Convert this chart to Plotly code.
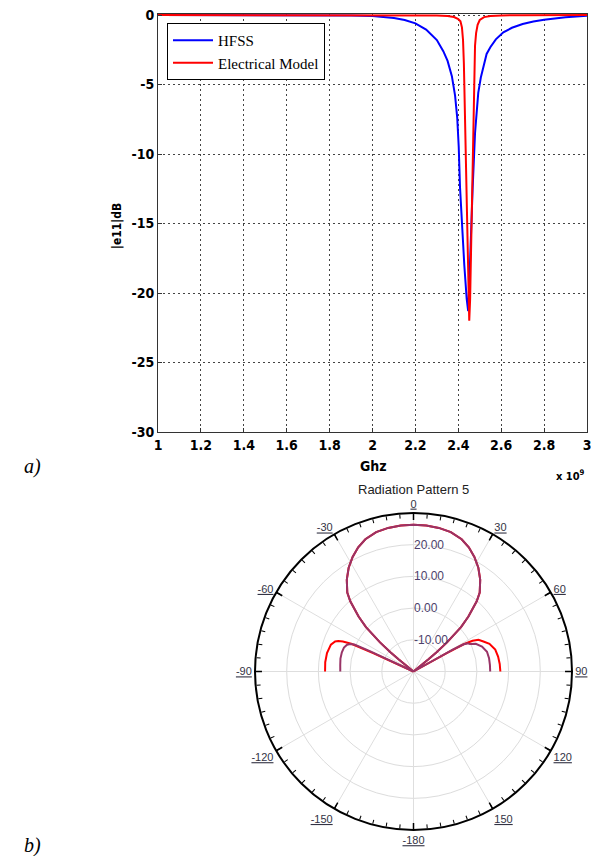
import plotly.graph_objects as go

W, H = 591, 856

# ---------------- (a) |S11| data ----------------
hfss_f = [1.0, 1.2, 1.4, 1.6, 1.7, 1.8, 1.9, 2.0, 2.05, 2.1,
          2.15, 2.2, 2.25, 2.3, 2.33, 2.35, 2.37, 2.385, 2.395, 2.402,
          2.408, 2.416, 2.428, 2.439, 2.446, 2.452, 2.458, 2.467, 2.478, 2.493,
          2.505, 2.517, 2.532, 2.55, 2.575, 2.61, 2.65, 2.7, 2.75, 2.8,
          2.85, 2.9, 2.95, 3.0]
hfss_db = [0, 0, 0, -0.005, -0.01, -0.02, -0.04, -0.08, -0.13, -0.22,
           -0.36, -0.6, -1.05, -1.8, -2.6, -3.3, -4.4, -5.8, -7.4, -9.5,
           -12.4, -15.0, -18.0, -20.4, -21.3, -19.0, -15.7, -12.4, -8.5, -5.6,
           -4.5, -3.7, -2.8, -2.3, -1.75, -1.25, -0.92, -0.65, -0.47, -0.35,
           -0.24, -0.16, -0.1, -0.06]

em_f = [1.0, 1.5, 2.0, 2.2, 2.3, 2.35, 2.38, 2.4, 2.41, 2.417,
        2.422, 2.426, 2.43, 2.435, 2.442, 2.447, 2.451, 2.455, 2.458, 2.462,
        2.466, 2.47, 2.474, 2.478, 2.483, 2.49, 2.5, 2.52, 2.55, 2.6,
        2.7, 2.8, 3.0]
em_db = [0, 0, -0.005, -0.01, -0.03, -0.07, -0.15, -0.3, -0.45, -0.9,
         -1.8, -3.5, -6.5, -11.0, -16.9, -20.5, -22.0, -20.5, -18.1, -15.5,
         -13.0, -8.5, -4.2, -2.2, -1.3, -0.7, -0.36, -0.15, -0.07, -0.03,
         -0.015, -0.01, 0]

x_ticks = [1.0, 1.2, 1.4, 1.6, 1.8, 2.0, 2.2, 2.4, 2.6, 2.8, 3.0]
x_ticklabels = ["1", "1.2", "1.4", "1.6", "1.8", "2", "2.2", "2.4", "2.6", "2.8", "3"]
y_ticks = [-30, -25, -20, -15, -10, -5, 0]
y_ticklabels = ["-30", "-25", "-20", "-15", "-10", "-5", "0"]

# ---------------- (b) radiation pattern data ----------------
red_theta = [-90, -84, -78, -72, -69, -68, -67, -66, -65.5, -65,
             -58, -51, -50.5, -50, -49, -47, -45, -42, -40, -36,
             -32, -28, -24, -20, -15, -10, -5, 0, 5, 10,
             15, 20, 24, 28, 32, 36, 40, 42, 45, 47,
             49, 50, 50.5, 51, 56, 60.5, 61, 61.5, 62.5, 64,
             66.8, 70, 75, 80, 85, 90]
red_r = [7.9, 8.0, 7.9, 7.4, 6.5, 5.6, 4.2, 1.5, -6, -20,
         -20, -20, -14, -10.5, -6, 0.5, 4.5, 9.8, 12.5, 15.8,
         18.6, 20.9, 22.9, 24.4, 25.5, 26.0, 26.2, 26.3, 26.2, 26.0,
         25.5, 24.4, 22.9, 20.9, 18.6, 15.8, 12.5, 9.8, 4.5, 0.5,
         -6, -10.5, -14, -20, -20, -20, -8, -2, 1.0, 2.8,
         4.0, 5.5, 6.7, 7.1, 7.3, 7.4]

pur_theta = [-90, -85, -80, -75, -71, -68, -66.5, -65.5, -65, -64.5,
             -58, -51, -50.5, -50, -49, -47, -45, -42, -40, -36,
             -32, -28, -24, -20, -15, -10, -5, 0, 5, 10,
             15, 20, 24, 28, 32, 36, 40, 42, 45, 47,
             49, 50, 50.5, 51, 56, 60.5, 61, 61.5, 62.5, 64,
             66, 70, 75, 80, 85, 90]
pur_r = [3.1, 3.2, 3.4, 3.4, 3.2, 2.6, 1.8, 0.5, -5, -20,
         -20, -20, -14, -10.5, -6, 0.5, 4.5, 9.8, 12.5, 15.8,
         18.6, 20.9, 22.9, 24.4, 25.5, 26.0, 26.2, 26.3, 26.2, 26.0,
         25.5, 24.4, 22.9, 20.9, 18.6, 15.8, 12.5, 9.8, 4.5, 0.5,
         -6, -10.5, -14, -20, -20, -20, -6, -2, -0.8, -0.2,
         1.5, 3.0, 4.0, 4.2, 4.2, 4.2]

r_ticks = [-10, 0, 10, 20]
r_ticklabels = ["-10.00", "0.00", "10.00", "20.00"]
ang_major = [0, 30, 60, 90, 120, 150, 180, 210, 240, 270, 300, 330]
ang_major_labels = ["0", "30", "60", "90", "120", "150", "-180", "-150", "-120", "-90", "-60", "-30"]


def px(x):
    return x / W


def py(y):
    return 1 - y / H


COND = "DejaVu Sans Condensed, DejaVu Sans, sans-serif"
SERIF = "Liberation Serif, Times New Roman, serif"
SANS = "Liberation Sans, Arial, sans-serif"

fig = go.Figure()

fig.add_trace(go.Scatter(x=hfss_f, y=hfss_db, mode="lines", name="HFSS",
                         line=dict(color="#0000FF", width=2)))
fig.add_trace(go.Scatter(x=em_f, y=em_db, mode="lines", name="Electrical Model",
                         line=dict(color="#FF0000", width=2)))

# polar grid spokes (every 30 deg) and longer major ticks
for a in ang_major:
    fig.add_trace(go.Scatterpolar(r=[-20, 30], theta=[a, a], mode="lines",
                                  line=dict(color="#dedede", width=1),
                                  hoverinfo="skip", showlegend=False))
    fig.add_trace(go.Scatterpolar(r=[30, 27.8], theta=[a, a], mode="lines",
                                  line=dict(color="black", width=1.5),
                                  hoverinfo="skip", showlegend=False))

fig.add_trace(go.Scatterpolar(r=red_r, theta=red_theta, mode="lines",
                              line=dict(color="#FF0000", width=2), showlegend=False))
fig.add_trace(go.Scatterpolar(r=pur_r, theta=pur_theta, mode="lines",
                              line=dict(color="#993366", width=2), showlegend=False))

ang_vals = list(range(0, 360, 5))
ang_text = []
for v in ang_vals:
    if v in ang_major:
        ang_text.append("<u>" + ang_major_labels[ang_major.index(v)] + "</u>")
    else:
        ang_text.append(" ")

axis_common = dict(showline=True, linecolor="#333333", linewidth=1, mirror=True,
                   showgrid=True, gridcolor="#444444", griddash="2px,3px", gridwidth=1,
                   zeroline=False, ticks="inside", ticklen=4, tickcolor="#333333",
                   automargin=False, ticklabeloverflow="allow",
                   tickfont=dict(family=COND, size=14, color="black", weight="bold"))

fig.update_layout(
    width=W, height=H,
    margin=dict(l=0, r=0, t=0, b=0, autoexpand=False),
    paper_bgcolor="white", plot_bgcolor="white",
    xaxis=dict(domain=[px(158), px(587)], range=[1, 3],
               tickvals=x_ticks, ticktext=x_ticklabels, **axis_common),
    yaxis=dict(domain=[py(432), py(15 - 1.39)], range=[-30, 0.1],
               tickvals=y_ticks, ticktext=y_ticklabels, **axis_common),
    legend=dict(x=px(167), y=py(23), xanchor="left", yanchor="top",
                bgcolor="white", bordercolor="black", borderwidth=1,
                itemwidth=40,
                font=dict(family=SERIF, size=15, color="black"),
                tracegroupgap=0),
    polar=dict(
        domain=dict(x=[px(255), px(572)], y=[py(830), py(513)]),
        bgcolor="white",
        radialaxis=dict(range=[-20, 30], tickvals=r_ticks, ticktext=r_ticklabels,
                        angle=90, tickangle=90, showline=False, ticks="", gridcolor="#dcdcdc",
                        tickfont=dict(family=SANS, size=12, color="#4d3f6b")),
        angularaxis=dict(rotation=90, direction="clockwise", tickvals=ang_vals,
                         ticktext=ang_text, ticks="inside", ticklen=4, tickwidth=1.2,
                         tickcolor="black", showline=True, linecolor="black", linewidth=2,
                         showgrid=False,
                         tickfont=dict(family=SANS, size=11, color="#333344")),
    ),
    annotations=[
        dict(text="|e11|dB", x=px(117), y=py(226), xref="paper", yref="paper",
             xanchor="center", yanchor="middle", textangle=-90, showarrow=False,
             font=dict(family=COND, size=12, color="black", weight="bold")),
        dict(text="Ghz", x=px(373), y=py(466), xref="paper", yref="paper",
             xanchor="center", yanchor="middle",
             showarrow=False, font=dict(family=COND, size=14, color="black", weight="bold")),
        dict(text="x 10<sup>9</sup>", x=px(570), y=py(475), xref="paper", yref="paper",
             xanchor="center", yanchor="middle",
             showarrow=False, font=dict(family=COND, size=11, color="black", weight="bold")),
        dict(text="<i>a)</i>", x=px(22), y=py(466), xref="paper", yref="paper",
             xanchor="left", yanchor="middle",
             showarrow=False, font=dict(family=SERIF, size=20, color="black")),
        dict(text="<i>b)</i>", x=px(22), y=py(845), xref="paper", yref="paper",
             xanchor="left", yanchor="middle",
             showarrow=False, font=dict(family=SERIF, size=20, color="black")),
        dict(text="Radiation Pattern 5", x=px(413), y=py(489), xref="paper", yref="paper",
             xanchor="center", yanchor="middle",
             showarrow=False, font=dict(family=SANS, size=13, color="#222222")),
    ],
)

fig.write_html("out.html", config={"displayModeBar": False},
               post_script="document.body.style.margin='0px';document.body.style.padding='0px';")
